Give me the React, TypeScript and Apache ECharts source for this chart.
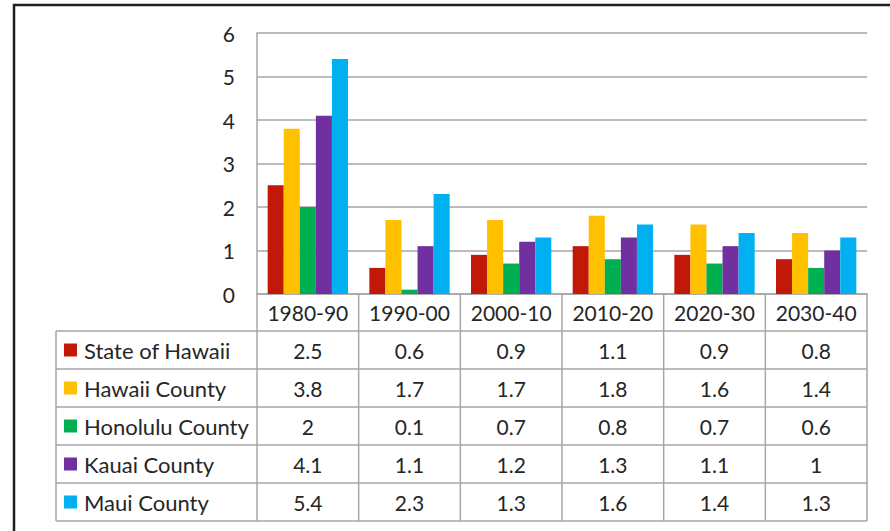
import React, { useEffect, useRef } from "react";
import * as echarts from "echarts";

const categories = ["1980-90", "1990-00", "2000-10", "2010-20", "2020-30", "2030-40"];
const seriesNames = ["State of Hawaii", "Hawaii County", "Honolulu County", "Kauai County", "Maui County"];
const stateOfHawaii = [2.5, 0.6, 0.9, 1.1, 0.9, 0.8];
const hawaiiCounty = [3.8, 1.7, 1.7, 1.8, 1.6, 1.4];
const honoluluCounty = [2, 0.1, 0.7, 0.8, 0.7, 0.6];
const kauaiCounty = [4.1, 1.1, 1.2, 1.3, 1.1, 1];
const mauiCounty = [5.4, 2.3, 1.3, 1.6, 1.4, 1.3];
const seriesValues = [stateOfHawaii, hawaiiCounty, honoluluCounty, kauaiCounty, mauiCounty];
const seriesColors = ["#C21807", "#FFC000", "#00B050", "#7030A0", "#00B0F0"];

const W = 890;
const H = 531;
const gridLeft = 257;
const gridRight = 867;
const gridTop = 33;
const axisY = 294;
const tableLeft = 56;
const headerBottom = 331;
const rowH = 38;
const lineColor = "#A6A6A6";
const textColor = "#262626";
const FONT = "Lato, 'Open Sans', sans-serif";
const FS = 21;
const FS_NAME = 22;

export default function App() {
  const ref = useRef<HTMLDivElement>(null);
  useEffect(() => {
    if (!ref.current) return;
    const chart = echarts.init(ref.current, undefined, { renderer: "svg" });
    const colW = (gridRight - gridLeft) / categories.length;
    const tableBottom = headerBottom + rowH * seriesNames.length;
    const graphics: any[] = [];
    // outer frame
    graphics.push({
      type: "rect",
      shape: { x: 14, y: 5, width: 1000, height: 700 },
      style: { fill: "none", stroke: "#1E1E1E", lineWidth: 2.5 },
      silent: true,
    });
    // horizontal table lines
    for (let r = 0; r <= seriesNames.length; r++) {
      const y = headerBottom + r * rowH;
      graphics.push({
        type: "line",
        shape: { x1: tableLeft, y1: y, x2: gridRight, y2: y },
        style: { stroke: lineColor, lineWidth: 1.5 },
        silent: true,
      });
    }
    // vertical lines
    graphics.push({
      type: "line",
      shape: { x1: tableLeft, y1: headerBottom, x2: tableLeft, y2: tableBottom },
      style: { stroke: lineColor, lineWidth: 1.5 },
      silent: true,
    });
    for (let c = 0; c <= categories.length; c++) {
      const x = gridLeft + c * colW;
      graphics.push({
        type: "line",
        shape: { x1: x, y1: axisY, x2: x, y2: tableBottom },
        style: { stroke: lineColor, lineWidth: 1.5 },
        silent: true,
      });
    }
    // rows
    seriesNames.forEach((name, r) => {
      const cy = headerBottom + r * rowH + rowH / 2;
      graphics.push({
        type: "rect",
        shape: { x: 64, y: cy - 6.5, width: 13, height: 13 },
        style: { fill: seriesColors[r] },
        silent: true,
      });
      graphics.push({
        type: "text",
        x: 84,
        y: cy,
        style: { text: name, fill: textColor, font: `${FS_NAME}px ${FONT}`, textVerticalAlign: "middle", textAlign: "left" },
        silent: true,
      });
      seriesValues[r].forEach((v, c) => {
        graphics.push({
          type: "text",
          x: gridLeft + c * colW + colW / 2,
          y: cy,
          style: { text: String(v), fill: textColor, font: `${FS}px ${FONT}`, textVerticalAlign: "middle", textAlign: "center" },
          silent: true,
        });
      });
    });

    chart.setOption({
      animation: false,
      backgroundColor: "#FFFFFF",
      grid: { left: gridLeft, right: W - gridRight, top: gridTop, bottom: H - axisY, containLabel: false },
      xAxis: {
        type: "category",
        data: categories,
        axisLine: { show: true, lineStyle: { color: lineColor, width: 1.5 } },
        axisTick: { show: false },
        axisLabel: {
          color: textColor,
          fontSize: FS,
          fontFamily: FONT,
          margin: 18,
          verticalAlign: "middle",
          interval: 0,
        },
      },
      yAxis: {
        type: "value",
        min: 0,
        max: 6,
        interval: 1,
        axisLine: { show: true, lineStyle: { color: lineColor, width: 1.5 } },
        axisTick: { show: false },
        splitLine: { show: true, lineStyle: { color: lineColor, width: 1.5 } },
        axisLabel: { color: textColor, fontSize: FS, fontFamily: FONT, margin: 22 },
      },
      series: seriesNames.map((name, i) => ({
        name,
        type: "bar",
        data: seriesValues[i],
        itemStyle: { color: seriesColors[i] },
        barGap: "0%",
        barCategoryGap: "21%",
      })),
      graphic: graphics,
    });
    return () => chart.dispose();
  }, []);
  return (
    <div
      ref={ref}
      style={{ position: "fixed", left: 0, top: 0, width: W, height: H, background: "#fff" }}
    />
  );
}
